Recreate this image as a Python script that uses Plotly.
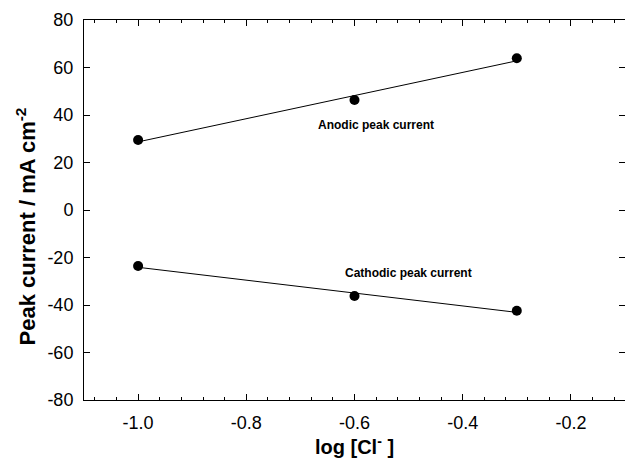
import numpy as np
import plotly.graph_objects as go

# Peak currents versus chloride concentration
log_cl = [-1.0, -0.6, -0.3]
anodic = [29.5, 46.3, 63.9]
cathodic = [-23.6, -36.2, -42.4]

x_tick_vals = [-1.0, -0.8, -0.6, -0.4, -0.2]
x_tick_text = ["-1.0", "-0.8", "-0.6", "-0.4", "-0.2"]
y_tick_vals = [80, 60, 40, 20, 0, -20, -40, -60, -80]
y_tick_text = ["80", "60", "40", "20", "0", "-20", "-40", "-60", "-80"]

FONT = "Liberation Sans, Arial, Helvetica, sans-serif"

fig = go.Figure()

# least-squares lines through each set of peaks
x_fit = np.array([min(log_cl), max(log_cl)])
for series in (anodic, cathodic):
    slope, intercept = np.polyfit(log_cl, series, 1)
    fig.add_trace(go.Scatter(
        x=x_fit, y=slope * x_fit + intercept, mode="lines",
        line=dict(color="black", width=1), showlegend=False, hoverinfo="skip",
    ))

for series in (anodic, cathodic):
    fig.add_trace(go.Scatter(
        x=log_cl, y=series, mode="markers",
        marker=dict(color="black", size=10, symbol="circle"),
        showlegend=False,
    ))

fig.add_annotation(x=-0.56, y=35.8, text="<b>Anodic peak current</b>",
                   showarrow=False, font=dict(family=FONT, size=12, color="black"))
fig.add_annotation(x=-0.50, y=-26.4, text="<b>Cathodic peak current</b>",
                   showarrow=False, font=dict(family=FONT, size=12, color="black"))

# vertical axis title
fig.add_annotation(xref="paper", yref="paper", x=-0.107, y=0.457,
                   text="<b>Peak current / mA cm<sup>-2</sup></b>", textangle=-90,
                   showarrow=False, xanchor="center", yanchor="middle",
                   font=dict(family=FONT, size=22, color="black"))

axis_common = dict(
    showline=True, linecolor="black", linewidth=1, mirror="allticks",
    ticks="inside", tickcolor="black", tickwidth=1, ticklen=6,
    showgrid=False, zeroline=False,
    tickfont=dict(family=FONT, size=18, color="black"),
)

fig.update_xaxes(
    range=[-1.1, -0.1], tickvals=x_tick_vals, ticktext=x_tick_text,
    minor=dict(dtick=0.04, tick0=-1.0, ticks="inside", ticklen=3,
               tickcolor="black", tickwidth=1, showgrid=False),
    ticklabelstandoff=6,
    title=dict(text="<b>log [Cl<sup>-</sup> ]</b>", standoff=0,
               font=dict(family=FONT, size=20, color="black")),
    **axis_common,
)
fig.update_yaxes(
    range=[-80, 80], tickvals=y_tick_vals, ticktext=y_tick_text,
    ticklabelstandoff=6,
    **axis_common,
)

fig.update_layout(
    width=625, height=461,
    margin=dict(l=84, r=0, t=20, b=61),
    plot_bgcolor="white", paper_bgcolor="white",
    font=dict(family=FONT, color="black"),
)

fig.write_html("out.html")
